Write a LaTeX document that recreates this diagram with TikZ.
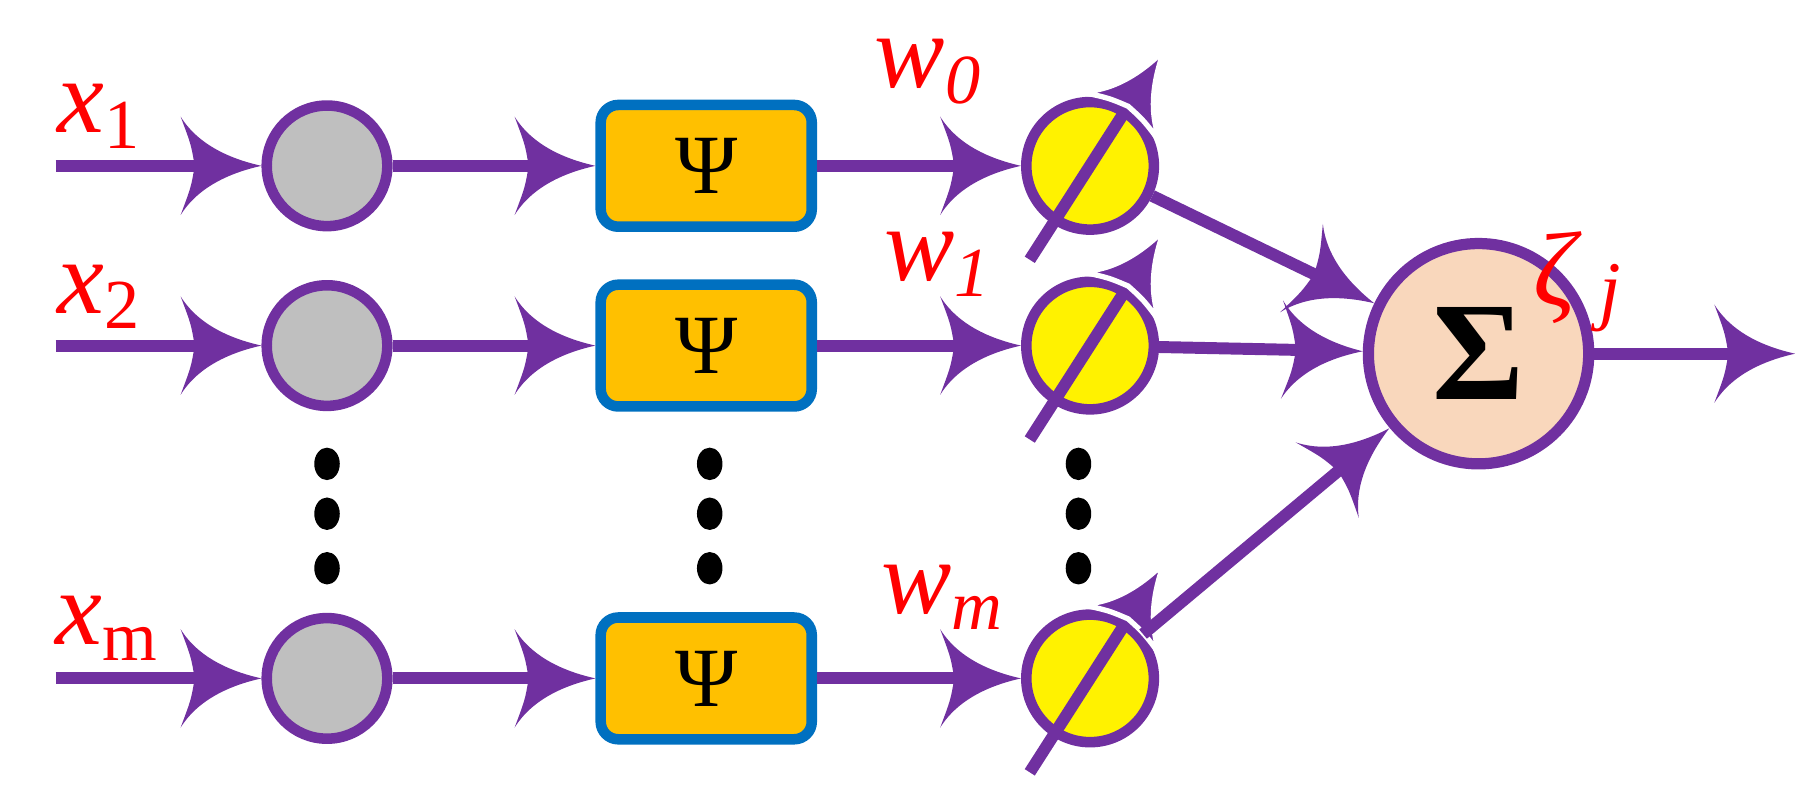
\documentclass[tikz,border=0pt]{standalone}
\usepackage{fontspec}
\setmainfont{Liberation Serif}
\usetikzlibrary{decorations.markings,calc,shapes.geometric}
\definecolor{pur}{HTML}{7030A0}
\definecolor{boxf}{HTML}{FFC000}
\definecolor{boxb}{HTML}{0070C0}
\definecolor{sumf}{HTML}{F9D7BC}
\tikzset{
  line/.style={draw=pur,line width=3.4pt,shorten >=8pt},
  head/.style={decoration={markings,mark=at position 1 with {
     \fill[pur,#1] (0,0) .. controls (-9pt,2pt) and (-18pt,6pt) .. (-23pt,14pt)
        .. controls (-20pt,6pt) .. (-19pt,0pt) .. controls (-20pt,-6pt) .. (-23pt,-14pt)
        .. controls (-18pt,-6pt) and (-9pt,-2pt) .. (0,0) -- cycle;}},decorate},
  head/.default={},
  gc/.style={circle,draw=pur,line width=3pt,fill=gray!50,minimum size=104*0.0116cm,inner sep=0},
  wc/.style={circle,draw=pur,line width=3pt,fill=yellow,minimum size=110*0.0116cm,inner sep=0},
  bx/.style={rectangle,rounded corners=5pt,draw=boxb,line width=3pt,fill=boxf,minimum width=182*0.0116cm,minimum height=105*0.0116cm,font=\fontsize{24}{24}\selectfont},
  dot/.style={ellipse,fill=black,minimum width=22*0.0116cm,minimum height=28*0.0116cm,inner sep=0},
  lab/.style={text=red,inner sep=0},
}
\newcommand\conn[2]{\draw[line] #1 -- #2; \path[head] #1 -- #2;}
\newcommand\xl[1]{{\fontsize{30}{30}\selectfont\textit{x}\raisebox{-0.15em}{\fontsize{20}{20}\selectfont #1}}}
\newcommand\wl[1]{{\fontsize{30}{30}\selectfont\textit{w}\raisebox{-0.15em}{\fontsize{20}{20}\selectfont\textit{#1}}}}
\begin{document}
\begin{tikzpicture}[x=0.0116cm,y=-0.0116cm]
\useasboundingbox (0,0) rectangle (1566,697);
\foreach \r/\y/\s in {1/143/1,2/298/2,3/585/m}{
  \coordinate (in\r) at (48,\y);
  \node[gc] (g\r) at (282,\y) {};
  \node[bx] (p\r) at (609,\y) {Ψ};
  \node[wc] (w\r) at (940,\y) {};
  \conn{(in\r)}{(g\r)}
  \conn{(g\r)}{(p\r)}
  \conn{(p\r)}{(w\r)}
  \coordinate (t\r) at ($(w\r)+(-52,81)$);
  \coordinate (h\r) at ($(w\r)+(64,-100)$);
  \draw[line] (t\r) -- (h\r);
  \path[head={draw=white,line width=1.5pt}] (t\r) -- (h\r);
}
\node[circle,draw=pur,line width=3.2pt,fill=sumf,minimum size=190*0.0116cm,inner sep=0,font=\fontsize{40}{40}\selectfont\bfseries] (s) at (1275,305) {Σ};
\conn{(w1)}{(s)}
\conn{(w2)}{(s)}
\conn{(w3)}{(s)}
\coordinate (out) at (1548,305);
\conn{(s)}{(out)}
\foreach \x in {282,612,930}{
  \foreach \yy in {400,443,490}{\node[dot] at (\x,\yy) {};}}
\node[lab] (lx1) at (85,100) {\xl{1}};
\node[lab] (lx2) at (85,256) {\xl{2}};
\node[lab] (lx3) at (92,542) {\xl{m}};
\node[lab] (lw1) at (800,62) {\wl{0}};
\node[lab] (lw2) at (808,228) {\wl{1}};
\node[lab] (lw3) at (812,515) {\wl{m}};
\node[lab] (lz) at (1360,243) {\fontsize{30}{30}\selectfont\textit{ζ}\,\raisebox{-0.1em}{\fontsize{22}{22}\selectfont\textit{j}}};
\end{tikzpicture}
\end{document}
